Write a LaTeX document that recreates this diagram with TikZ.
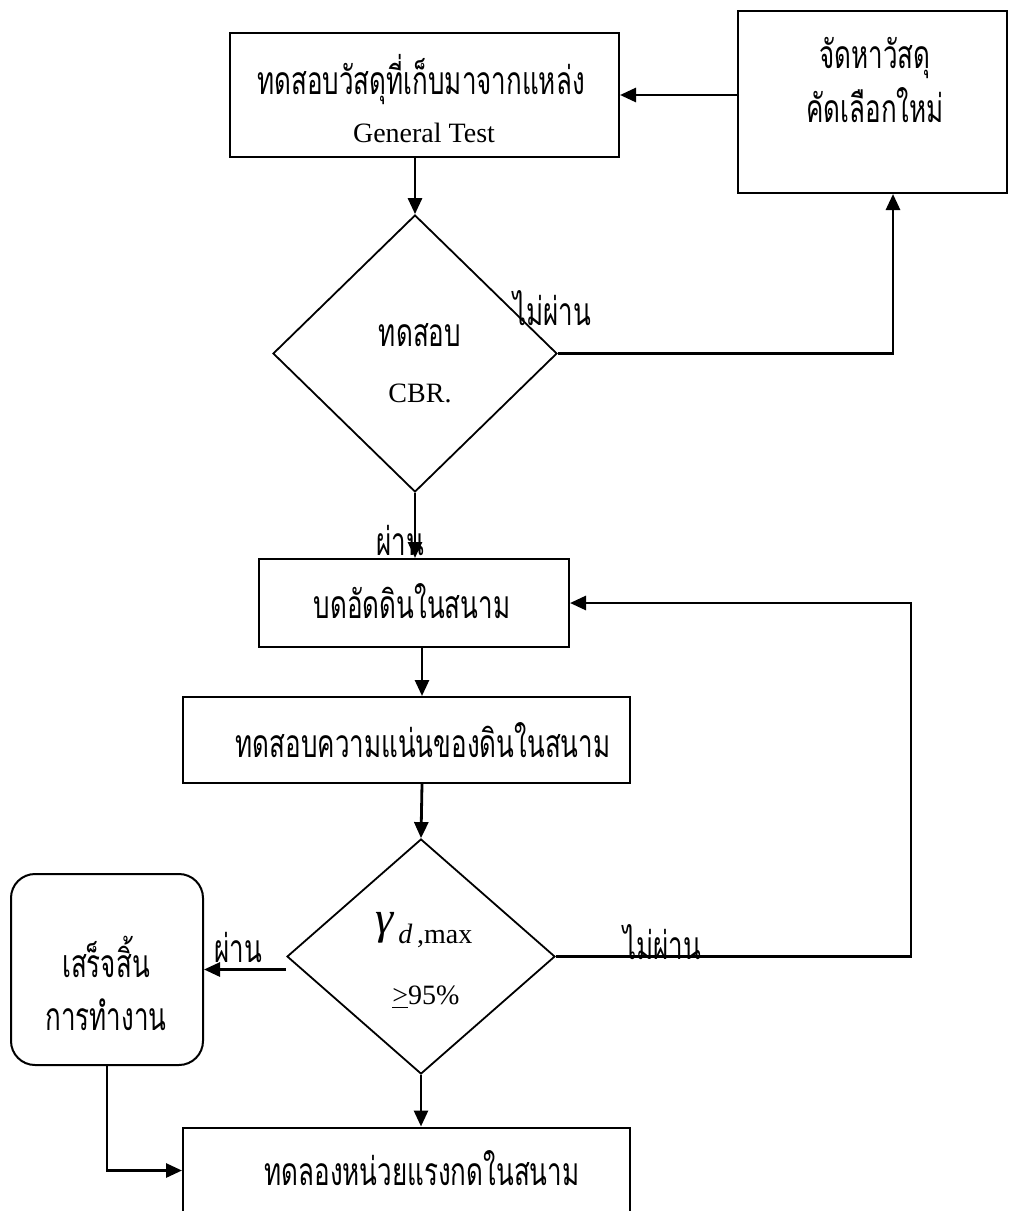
\documentclass[tikz,border=0pt]{standalone}
\usepackage{graphicx}
\usepackage{fontspec}
\setmainfont{Liberation Serif}
\newfontfamily\thai[Script=Thai]{Loma}
\newcommand{\thtxt}[1]{\scalebox{1}[1.5]{\thai\fontsize{13}{16}\selectfont #1}}
\usetikzlibrary{shapes.geometric,arrows.meta,calc}
\begin{document}
\begin{tikzpicture}[x=0.5pt,y=-0.5pt,
  box/.style={draw,line width=1pt,rectangle,inner sep=0pt},
  rbox/.style={draw,line width=1pt,rectangle,rounded corners=12pt,inner sep=0pt},
  dia/.style={draw,line width=0.9pt,diamond,inner sep=0pt},
  arr/.style={line width=1.4pt,-{Triangle[length=8pt,width=7pt]}},
  th/.style={inner sep=0pt},
  lt/.style={font=\fontsize{14}{16}\selectfont,inner sep=0pt}]
\useasboundingbox (0,0) rectangle (1009,1211);
% shapes
\node[box,minimum width=194.5pt,minimum height=62pt] (b1) at (424.5,95) {};
\node[box,minimum width=134.5pt,minimum height=91pt] (b2) at (872.5,102) {};
\node[dia,minimum width=142pt,minimum height=138.5pt] (d1) at (415,353.5) {};
\node[box,minimum width=155pt,minimum height=44pt] (b3) at (414,603) {};
\node[box,minimum width=223.5pt,minimum height=43pt] (b4) at (406.5,740) {};
\node[dia,minimum width=134pt,minimum height=117.5pt] (d2) at (421,956.5) {};
\node[rbox,minimum width=96pt,minimum height=95.5pt] (r) at (107,969.5) {};
\node[box,minimum width=223.5pt,minimum height=43pt] (b5) at (406.5,1170.5) {};
% texts
\node[th] (t1) at (421,80) {\thtxt{ทดสอบวัสดุที่เก็บมาจากแหล่ง}};
\node[lt] (t2) at (424,133) {General Test};
\node[th] (t3) at (875,58) {\thtxt{จัดหาวัสดุ}};
\node[th] (t4) at (875,105) {\thtxt{คัดเลือกใหม่}};
\node[th] (t5) at (420,335) {\thtxt{ทดสอบ}};
\node[lt] (t6) at (420,393) {CBR.};
\node[th] (l1) at (552,308) {\thtxt{ไม่ผ่าน}};
\node[th] (l2) at (400,540) {\thtxt{ผ่าน}};
\node[th] (t7) at (412,601) {\thtxt{บดอัดดินในสนาม}};
\node[th] (t8) at (423,740) {\thtxt{ทดสอบความแน่นของดินในสนาม}};
\node[lt] (t9) at (424,930) {\raisebox{5pt}{\fontsize{23}{23}\selectfont\itshape γ}\,{\itshape d}\,,max};
\node[lt] (t10) at (426,997) {\underline{>}95\%};
\node[th] (l3) at (662,942) {\thtxt{ไม่ผ่าน}};
\node[th] (l4) at (238,947) {\thtxt{ผ่าน}};
\node[th] (t11) at (106,957) {\thtxt{เสร็จสิ้น}};
\node[th] (t12) at (106,1015) {\thtxt{การทำงาน}};
\node[th] (t13) at (422,1168) {\thtxt{ทดลองหน่วยแรงกดในสนาม}};
% helper coordinates
\coordinate (k1) at (893,0);
\coordinate (k2) at (911,0);
\coordinate (k3) at (422,0);
% connectors
\draw[arr] (b2.west |- b1.east) -- (b1.east);
\draw[arr] (b1.south -| d1.north) -- (d1.north);
\draw[arr] (d1.east) -- (k1 |- d1.east) -- (k1 |- b2.south);
\draw[arr] (d1.south) -- (d1.south |- b3.north);
\draw[arr] (k3 |- b3.south) -- (k3 |- b4.north);
\draw[arr] (k3 |- b4.south) -- (d2.north);
\draw[arr] (d2.east) -- (k2 |- d2.east) -- (k2 |- b3.east) -- (b3.east);
\draw[arr] (d2.west |- r.east) -- (r.east);
\draw[arr] (d2.south) -- (d2.south |- b5.north);
\draw[arr] (r.south) -- (r.south |- b5.west) -- (b5.west);
\end{tikzpicture}
\end{document}
